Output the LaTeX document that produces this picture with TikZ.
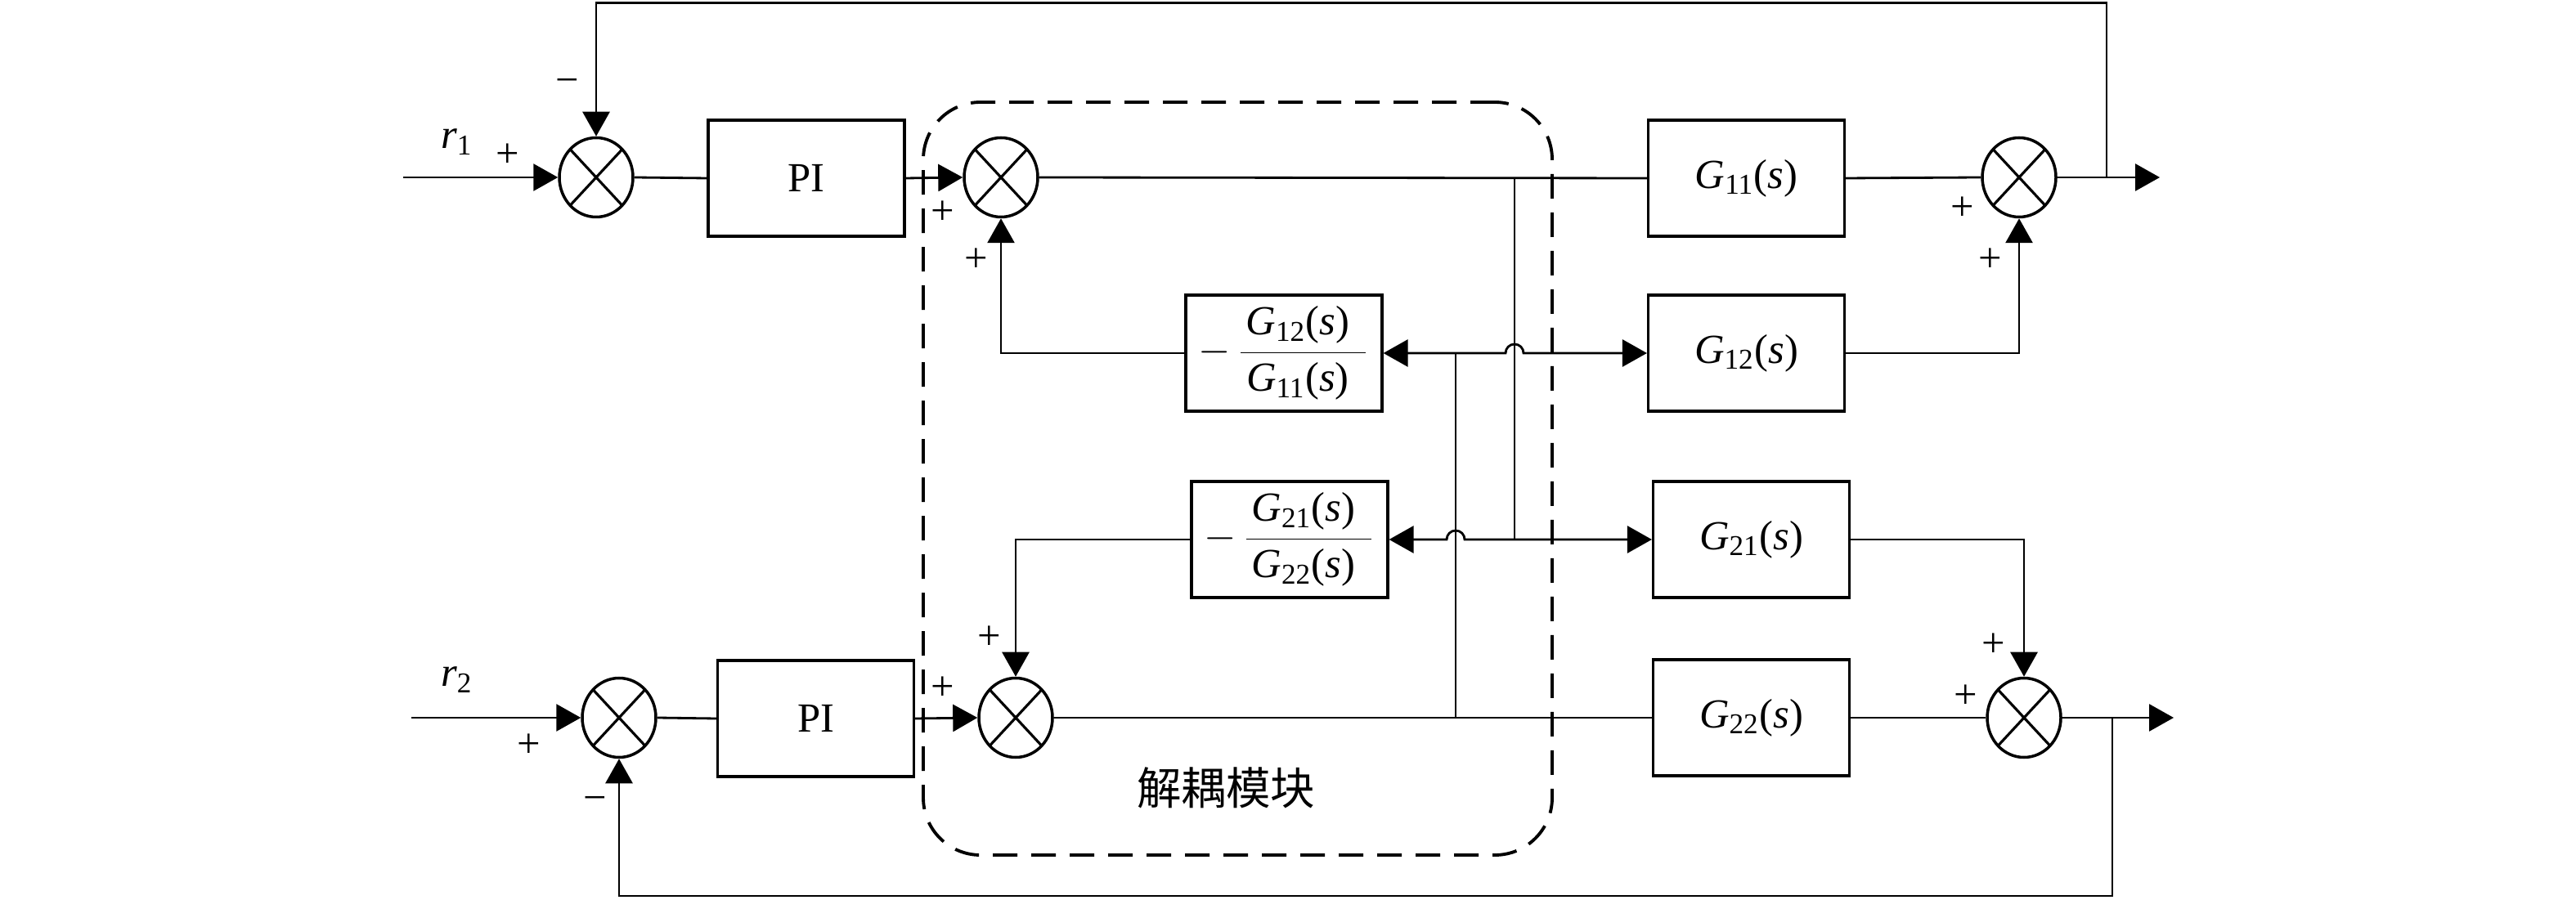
\documentclass[tikz,border=0pt]{standalone}
\usepackage{fontspec}
\setmainfont{Liberation Serif}
\newfontfamily\cjk{Noto Sans CJK SC}
\usetikzlibrary{arrows.meta, shapes.geometric}

\newcommand{\gtf}[1]{\textit{G}\textsubscript{#1}(\textit{s})}

\begin{document}
\begin{tikzpicture}[
    every node/.style = {font=\fontsize{14.4}{17}\selectfont},
    block/.style    = {draw, line width=0.9pt, minimum width=2.4cm, minimum height=1.42cm, inner sep=0pt},
    sum/.style      = {ellipse, draw, line width=1pt, minimum width=0.9cm, minimum height=0.97cm, inner sep=0pt,
                       path picture={\draw[line width=0.9pt]
                           (path picture bounding box.north west) -- (path picture bounding box.south east)
                           (path picture bounding box.north east) -- (path picture bounding box.south west);}},
    polarity/.style = {inner sep=0pt},
    decbox/.style   = {draw, line width=1.1pt, dash pattern=on 0.3cm off 0.17cm, rounded corners=0.7cm,
                       minimum width=7.69cm, minimum height=9.21cm},
    >={Triangle[length=3mm, width=3.3mm]},
    line width=0.8pt
]
\useasboundingbox (0,0) rectangle (31.5,-11.01);

% decoupling module
\node[decbox] (dec) at (15.135,-5.855) {};
\node[font=\cjk\fontsize{15.5}{18}\selectfont] (declbl) at (14.99,-9.64) {解耦模块};

% loop 1
\node[sum]   (sr1) at (7.29, -2.17)  {};
\node[block] (pi1) at (9.86, -2.18)  {PI};
\node[sum]   (sd1) at (12.24, -2.17) {};
\node[block] (g11) at (21.355, -2.18) {\gtf{11}};
\node[sum]   (so1) at (24.69, -2.17) {};

% cross terms
\node[block] (dc1) at (15.70, -4.32) {$\displaystyle -\,\frac{\mbox{\kern0.06cm\gtf{12}\kern0.2cm}}{\mbox{\kern0.06cm\gtf{11}\kern0.2cm}}$};
\node[block] (g12) at (21.355, -4.32) {\gtf{12}};
\node[block] (dc2) at (15.77, -6.60) {$\displaystyle -\,\frac{\mbox{\kern0.06cm\gtf{21}\kern0.2cm}}{\mbox{\kern0.06cm\gtf{22}\kern0.2cm}}$};
\node[block] (g21) at (21.415, -6.60) {\gtf{21}};

% loop 2
\node[sum]   (sr2) at (7.57, -8.78)  {};
\node[block] (pi2) at (9.975, -8.79) {PI};
\node[sum]   (sd2) at (12.42, -8.78) {};
\node[block] (g22) at (21.415, -8.78) {\gtf{22}};
\node[sum]   (so2) at (24.75, -8.78) {};

% free ends, taps and hops
\coordinate (in1)  at (4.93, -2.17);
\coordinate (in2)  at (5.03, -8.78);
\coordinate (out1) at (26.41, -2.17);
\coordinate (out2) at (26.58, -8.78);
\coordinate (tap1) at (25.76, -2.17);
\coordinate (top1) at (25.76, -0.035);
\coordinate (tap2) at (25.83, -8.78);
\coordinate (bot2) at (25.83, -10.96);
\coordinate (j1) at (17.80, -8.78);
\coordinate (k1) at (17.80, -4.32);
\coordinate (j2) at (18.52, -2.17);
\coordinate (k2) at (18.52, -6.60);
\coordinate (h1) at (18.41, -4.32);
\coordinate (h2) at (17.69, -6.60);

% labels
\node[anchor=base west] (lr1) at (5.26, -1.82) {\textit{r}\textsubscript{1}};
\node[anchor=base west] (lr2) at (5.26, -8.40) {\textit{r}\textsubscript{2}};
\node[polarity] at (6.21, -1.90)  {+};
\node[polarity] at (6.94, -1.05)  {−};
\node[polarity] at (11.53, -2.60) {+};
\node[polarity] at (11.94, -3.18) {+};
\node[polarity] at (24.00, -2.55) {+};
\node[polarity] at (24.34, -3.18) {+};
\node[polarity] at (6.47, -9.12)  {+};
\node[polarity] at (7.28, -9.83)  {−};
\node[polarity] at (12.10, -7.80) {+};
\node[polarity] at (11.53, -8.42) {+};
\node[polarity] at (24.38, -7.89) {+};
\node[polarity] at (24.04, -8.52) {+};

% forward paths
\draw[->] (in1) -- (sr1.west);
\draw (sr1.east) -- (pi1.west);
\draw[->] (pi1.east) -- (sd1.west);
\draw (sd1.east) -- (g11.west);
\draw (g11.east) -- (so1.west);
\draw[->] (so1.east) -- (out1);

\draw[->] (in2) -- (sr2.west);
\draw (sr2.east) -- (pi2.west);
\draw[->] (pi2.east) -- (sd2.west);
\draw (sd2.east) -- (g22.west);
\draw (g22.east) -- (so2.west);
\draw[->] (so2.east) -- (out2);

% feedback
\draw[->] (tap1) -- (top1) -| (sr1.north);
\draw[->] (tap2) -- (bot2) -| (sr2.south);

% decoupling branches
\draw (j1) -- (k1);
\draw (j2) -- (k2);
\draw[<->] (dc1.east) -- (h1) arc[start angle=180, end angle=0, radius=0.11] -- (g12.west);
\draw[<->] (dc2.east) -- (h2) arc[start angle=180, end angle=0, radius=0.11] -- (g21.west);
\draw[->] (dc1.west) -| (sd1.south);
\draw[->] (dc2.west) -| (sd2.north);

% coupling into outputs
\draw[->] (g12.east) -| (so1.south);
\draw[->] (g21.east) -| (so2.north);

\end{tikzpicture}
\end{document}
